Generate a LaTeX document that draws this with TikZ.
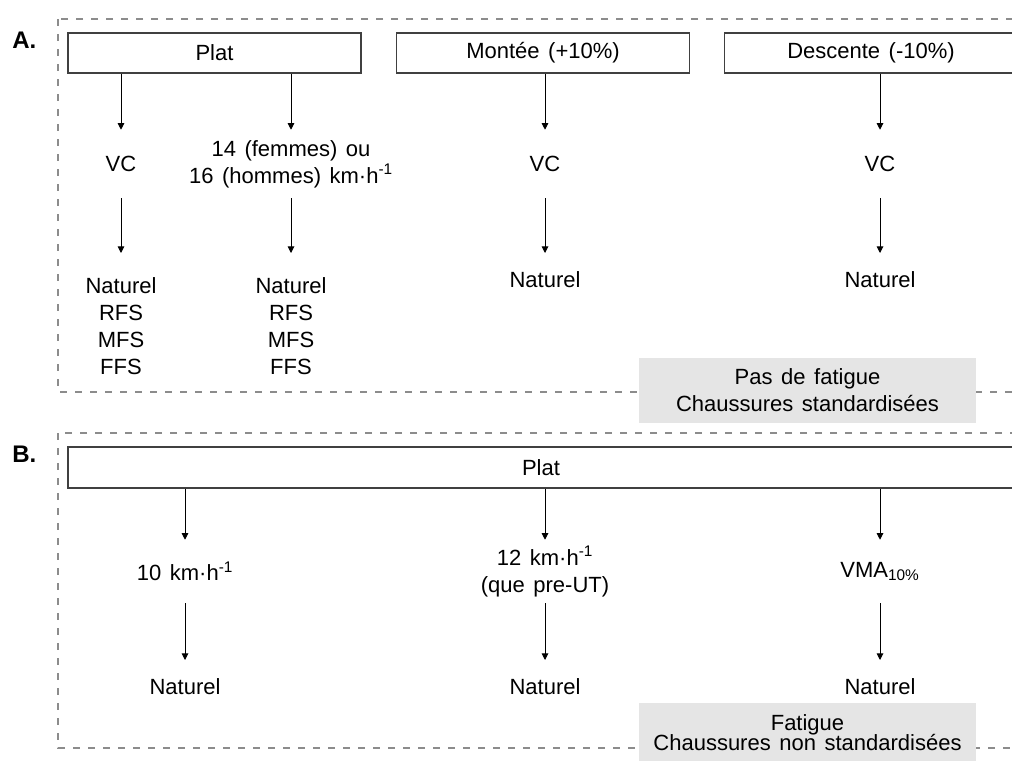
\documentclass[tikz,border=0pt]{standalone}
\usepackage{fontspec}
\setmainfont[WordSpace=1.4]{Liberation Sans}
\usetikzlibrary{arrows.meta}
\definecolor{dashgray}{HTML}{8C8C8C}
\definecolor{boxline}{HTML}{404040}
\definecolor{notegray}{HTML}{E5E5E5}
\newcommand{\tightlines}{\fontsize{16.5}{14.6}\selectfont\lineskiplimit=-100pt\relax}
\tikzset{
  panel/.style={draw=dashgray, line width=1.1pt, dash pattern=on 5.25pt off 6pt},
  catbox/.style={draw=boxline, line width=0.9pt, minimum width=219.75pt, minimum height=30pt, inner sep=0},
  arr/.style={-{Triangle[width=5pt,length=5pt]}, line width=0.7pt, black},
  midA/.style={inner sep=0, align=center, minimum height=51pt},
  midB/.style={inner sep=0, align=center, minimum height=47.25pt},
  res/.style={anchor=north, align=center, inner xsep=0, inner ysep=13.5pt},
  resA/.style={res, inner ysep=18.5pt},
  note/.style={fill=notegray, inner xsep=0, align=center, minimum width=252.75pt},
  lab/.style={font=\fontsize{18}{18}\selectfont\bfseries, anchor=base west, inner sep=0}
}
\begin{document}
\begin{tikzpicture}[x=0.75pt, y=-0.75pt, font=\fontsize{16.5}{20.25}\selectfont]
\useasboundingbox (0,0) rectangle (1012,760);
\clip (0,0) rectangle (1012,760);

% ---------- Panel A ----------
\draw[panel] (58,19) rectangle (1040,392);
\node[lab] (labA) at (12,48) {A.};

\node[catbox] (platA) at (214.5,53) {Plat};
\node[catbox] (montee) at (543,53) {Montée (+10\%)};
\node[catbox] (descente) at (871,53) {Descente (-10\%)};

\node[midA] (vc1) at (121,164) {VC};
\node[midA] (sp1) at (291,164) {14 (femmes) ou\\16 (hommes) km·h\textsuperscript{-1}};
\node[midA] (vc2) at (545,164) {VC};
\node[midA] (vc3) at (880,164) {VC};

\node[resA] (n1) at (121,253) {Naturel\\RFS\\MFS\\FFS};
\node[resA] (n2) at (291,253) {Naturel\\RFS\\MFS\\FFS};
\node[res] (n3) at (545,253) {Naturel};
\node[res] (n4) at (880,253) {Naturel};

\draw[arr] (platA.south -| vc1) -- (vc1.north);
\draw[arr] (platA.south -| sp1) -- (sp1.north);
\draw[arr] (montee.south -| vc2) -- (vc2.north);
\draw[arr] (descente.south -| vc3) -- (vc3.north);
\draw[arr] (vc1.south) -- (n1.north);
\draw[arr] (sp1.south) -- (n2.north);
\draw[arr] (vc2.south) -- (n3.north);
\draw[arr] (vc3.south) -- (n4.north);

\node[note, minimum height=48.75pt, inner ysep=0] (noteA) at (807.5,390.5) {Pas de fatigue\\Chaussures standardisées};

% ---------- Panel B ----------
\draw[panel] (58,433) rectangle (1040,748);
\node[lab] (labB) at (12,462) {B.};

\node[catbox, minimum width=709.5pt, minimum height=30.75pt] (platB) at (541,467.5) {Plat};

\node[midB] (b1) at (185,571.5) {10 km·h\textsuperscript{-1}};
\node[midB] (b2) at (545,571.5) {12 km·h\textsuperscript{-1}\\(que pre-UT)};
\node[midB] (b3) at (880,571.5) {VMA\textsubscript{10\%}};

\node[res] (bn1) at (185,660) {Naturel};
\node[res] (bn2) at (545,660) {Naturel};
\node[res] (bn3) at (880,660) {Naturel};

\draw[arr] (platB.south -| b1) -- (b1.north);
\draw[arr] (platB.south -| b2) -- (b2.north);
\draw[arr] (platB.south -| b3) -- (b3.north);
\draw[arr] (b1.south) -- (bn1.north);
\draw[arr] (b2.south) -- (bn2.north);
\draw[arr] (b3.south) -- (bn3.north);

\node[note, anchor=north, inner ysep=8.5pt, font=\tightlines] (noteB) at (807.5,703)
      {Fatigue\\Chaussures non standardisées};
\end{tikzpicture}
\end{document}
